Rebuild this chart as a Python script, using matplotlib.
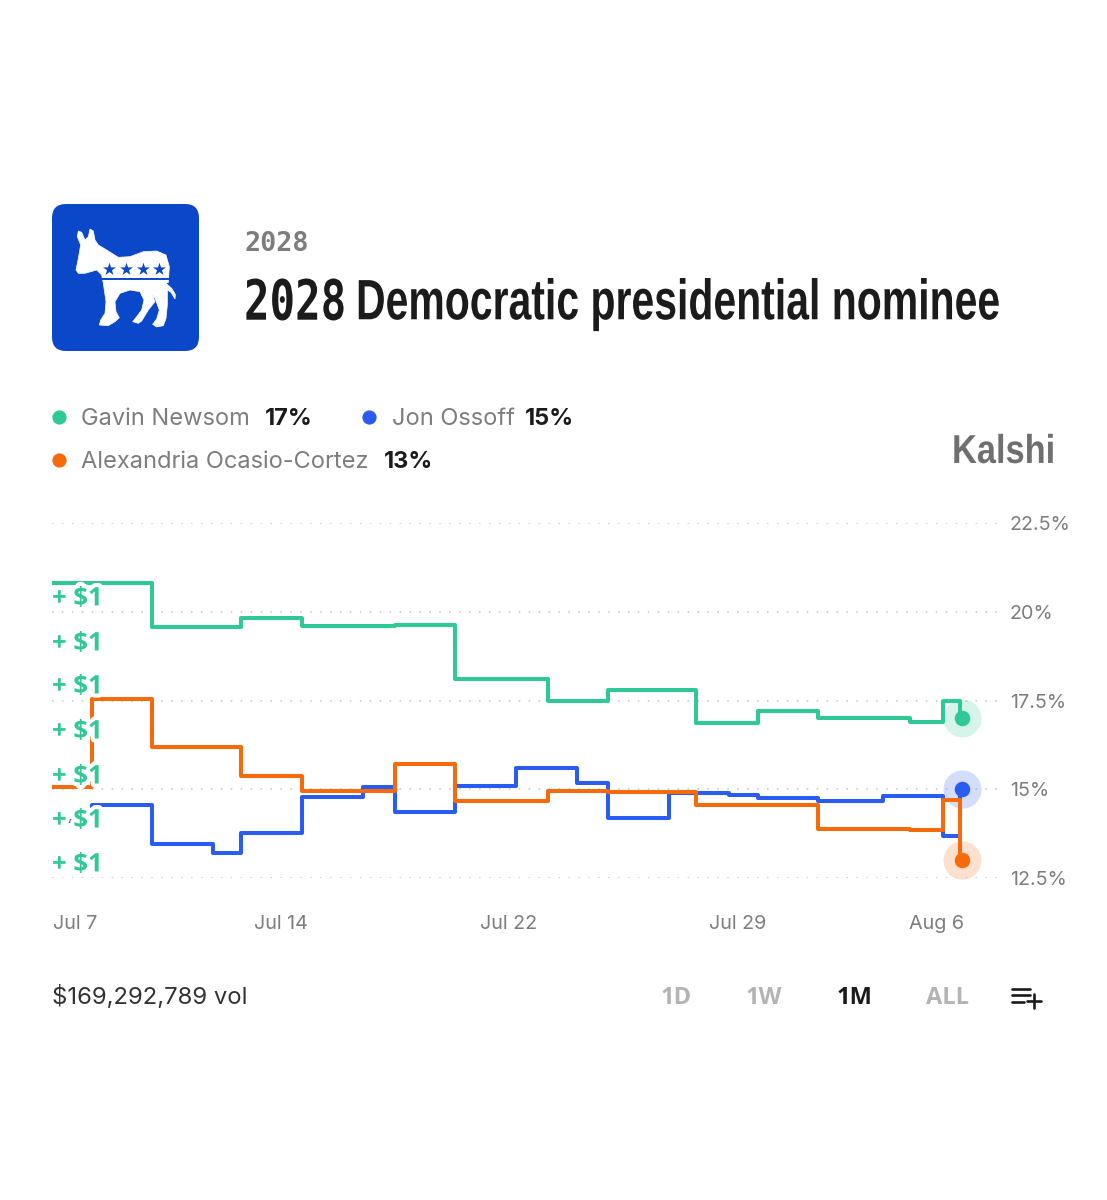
import matplotlib
matplotlib.use("Agg")
import matplotlib.pyplot as plt
import matplotlib.patheffects as pe
from matplotlib.patches import FancyBboxPatch, Polygon
from matplotlib.transforms import Affine2D

W, H = 1107, 1200

# x is days since Jul 7, y is percent
newsom_x = [-0.80, 2.68, 5.78, 7.91, 11.15, 13.24, 16.48, 18.57, 21.64, 23.80, 25.89, 29.09, 30.24, 30.84, 30.91]
newsom_y = [20.80, 19.56, 19.82, 19.60, 19.62, 18.10, 17.50, 17.79, 16.86, 17.20, 17.00, 16.89, 17.50, 17.00, 17.00]

ossoff_x = [-0.80, 0.59, 2.68, 4.81, 5.78, 7.91, 10.03, 11.15, 13.24, 15.37, 17.49, 18.57, 20.70, 22.79, 23.80, 25.89, 28.15, 30.24, 30.84, 30.91]
ossoff_y = [14.10, 14.55, 13.45, 13.20, 13.76, 14.77, 15.05, 14.35, 15.08, 15.60, 15.17, 14.18, 14.90, 14.83, 14.75, 14.66, 14.80, 13.68, 15.00, 15.00]

aoc_x = [-0.80, 0.59, 2.68, 5.78, 7.91, 11.15, 13.24, 16.48, 18.57, 21.64, 25.89, 29.09, 30.24, 30.84, 30.91]
aoc_y = [15.05, 17.54, 16.20, 15.37, 14.94, 15.70, 14.66, 14.94, 14.92, 14.55, 13.87, 13.85, 14.70, 13.00, 13.00]

tick_days = [0, 7.18, 15.09, 23.07, 30]
tick_names = ["Jul 7", "Jul 14", "Jul 22", "Jul 29", "Aug 6"]
y_ticks = [12.5, 15, 17.5, 20, 22.5]
y_names = ["12.5%", "15%", "17.5%", "20%", "22.5%"]

GREEN, BLUE, ORANGE = "#2fc997", "#2a5cf2", "#f56b0c"
GRAY = "#7d7d7d"
LIGHT = "#b4b4b4"
DARK = "#1b1b1b"

plt.rcParams["font.family"] = ["Inter", "DejaVu Sans"]

fig = plt.figure(figsize=(W / 100, H / 100), dpi=100, facecolor="white")


def px_axes(left, top, right, bottom):
    return fig.add_axes([left / W, 1 - bottom / H, (right - left) / W, (bottom - top) / H])


class TallGlyphs(pe.AbstractPathEffect):
    # no condensed font here: set the text small enough to fit, then stretch it upward when drawn
    def __init__(self, y0, k):
        super().__init__()
        self.y0, self.k = y0, k

    def draw_path(self, renderer, gc, tpath, affine, rgbFace=None):
        stretch = Affine2D().translate(0, -self.y0).scale(1, self.k).translate(0, self.y0)
        renderer.draw_path(gc, tpath, affine + stretch, rgbFace)


def condensed_text(axes, x, y, s, width, fontsize, **kw):
    t = axes.text(x, y, s, fontsize=fontsize, va="center", **kw)
    box = t.get_window_extent(fig.canvas.get_renderer())
    k = box.width / width
    t.set_fontsize(fontsize / k)
    t.set_path_effects([TallGlyphs(H - y, k)])
    return t


# chart
ax = px_axes(52, 523, 1003, 878)
ax.set_xlim(-0.80, 32.33)
ax.set_ylim(12.5, 22.5)
for s in ax.spines.values():
    s.set_visible(False)
ax.yaxis.tick_right()
ax.set_yticks(y_ticks, y_names)
ax.set_xticks(tick_days, tick_names)
ax.tick_params(axis="y", length=0, pad=5, labelsize=14.2, labelcolor=GRAY)
ax.tick_params(axis="x", length=0, pad=26.5, labelsize=14.2, labelcolor=GRAY)
ax.grid(axis="y", color="#c4c4c4", lw=1.1, ls=(0, (1, 5.5)))
ax.set_axisbelow(True)

for x, y, c in [(newsom_x, newsom_y, GREEN), (ossoff_x, ossoff_y, BLUE), (aoc_x, aoc_y, ORANGE)]:
    ax.plot(x, y, drawstyle="steps-post", color=c, lw=2.9, solid_joinstyle="round", zorder=3)
    ax.scatter(x[-1], y[-1], s=750, color=c, alpha=0.2, lw=0, clip_on=False, zorder=2)
    ax.scatter(x[-1], y[-1], s=125, color=c, lw=0, clip_on=False, zorder=4)

# everything else is placed in pixels on a see-through layer
top = px_axes(0, 0, W, H)
top.set_xlim(0, W)
top.set_ylim(H, 0)
top.axis("off")
top.set_zorder(5)

# logo
top.add_patch(FancyBboxPatch((52, 204), 147, 147, boxstyle="round,pad=0,rounding_size=14", fc="#0a47c9", ec="none"))
donkey = [(115, 108), (125, 112), (135, 135), (145, 125), (150, 102), (160, 108), (165, 135), (175, 150),
          (200, 165), (235, 187), (270, 185), (310, 170), (350, 168), (378, 180), (388, 215), (385, 262),
          (378, 265), (395, 280), (406, 298), (405, 312), (393, 292), (382, 285), (382, 330), (378, 370),
          (370, 392), (350, 396), (338, 388), (350, 372), (358, 345), (345, 310), (335, 295), (345, 320),
          (325, 345), (305, 378), (295, 385), (278, 380), (290, 365), (305, 345), (312, 315), (300, 290),
          (270, 285), (240, 295), (225, 320), (228, 350), (238, 368), (225, 380), (205, 392), (178, 390),
          (182, 375), (195, 355), (198, 320), (190, 265), (185, 240), (170, 225), (135, 235), (115, 235),
          (108, 225), (115, 190), (122, 150), (112, 125)]
top.add_patch(Polygon([(x / 3 + 40, y / 3 + 195) for x, y in donkey], closed=True, fc="white", ec="white", lw=0.5))
top.plot([187 / 3 + 40, 386 / 3 + 40], [279.3, 279.3], color="#0a47c9", lw=1.4)
top.scatter([109.3, 126.3, 143, 159.3], [269, 269, 269, 269], marker="*", s=95, color="#0a47c9", lw=0)

# header
top.text(244, 244, "2028", family="DejaVu Sans Mono", weight="bold", fontsize=19.3, color=GRAY, va="center")
condensed_text(top, 244, 304, "2028", 102, 40, family="DejaVu Sans Mono", weight="bold", color=DARK)
condensed_text(top, 356, 304, "Democratic presidential nominee", 645, 41, family="Liberation Sans",
               weight="bold", color=DARK)

# legend
for dx, dy, c in [(59, 417, GREEN), (369, 417, BLUE), (59, 460, ORANGE)]:
    top.scatter(dx, dy, s=105, color=c, lw=0)
for tx, ty, label, vx, val in [(81, 419, "Gavin Newsom", 265, "17%"), (392, 419, "Jon Ossoff", 525, "15%"),
                               (81, 462, "Alexandria Ocasio-Cortez", 384, "13%")]:
    top.text(tx, ty, label, fontsize=17, color=GRAY, va="center")
    top.text(vx, ty, val, fontsize=17, weight="bold", color=DARK, va="center")

condensed_text(top, 952, 453, "Kalshi", 103, 29, family="Liberation Sans", weight="bold", color="#6f6f6f")

# the tip labels cover the start of the lines
for y in [598, 643, 686, 731, 776, 820, 864]:
    top.text(52, y, "+ $1", family="Open Sans", fontsize=18.5, weight="bold", color=GREEN, va="center",
             path_effects=[pe.withStroke(linewidth=6, foreground="white")])

# footer
top.text(52, 997, "$169,292,789 vol", fontsize=17.2, color="#333333", va="center")
for x, label, c in [(661, "1D", LIGHT), (746, "1W", LIGHT), (837, "1M", DARK), (926, "ALL", LIGHT)]:
    top.text(x, 998, label, family="Open Sans", fontsize=17, weight="bold", color=c, va="center")
for y, x1 in [(988.5, 1030), (995, 1030), (1002, 1024)]:
    top.plot([1012, x1], [y, y], color=DARK, lw=1.9, solid_capstyle="round")
top.plot([1027, 1041], [1001, 1001], color=DARK, lw=1.9, solid_capstyle="round")
top.plot([1034, 1034], [994, 1008], color=DARK, lw=1.9, solid_capstyle="round")

fig.savefig("out.png", dpi=100, facecolor="white")
